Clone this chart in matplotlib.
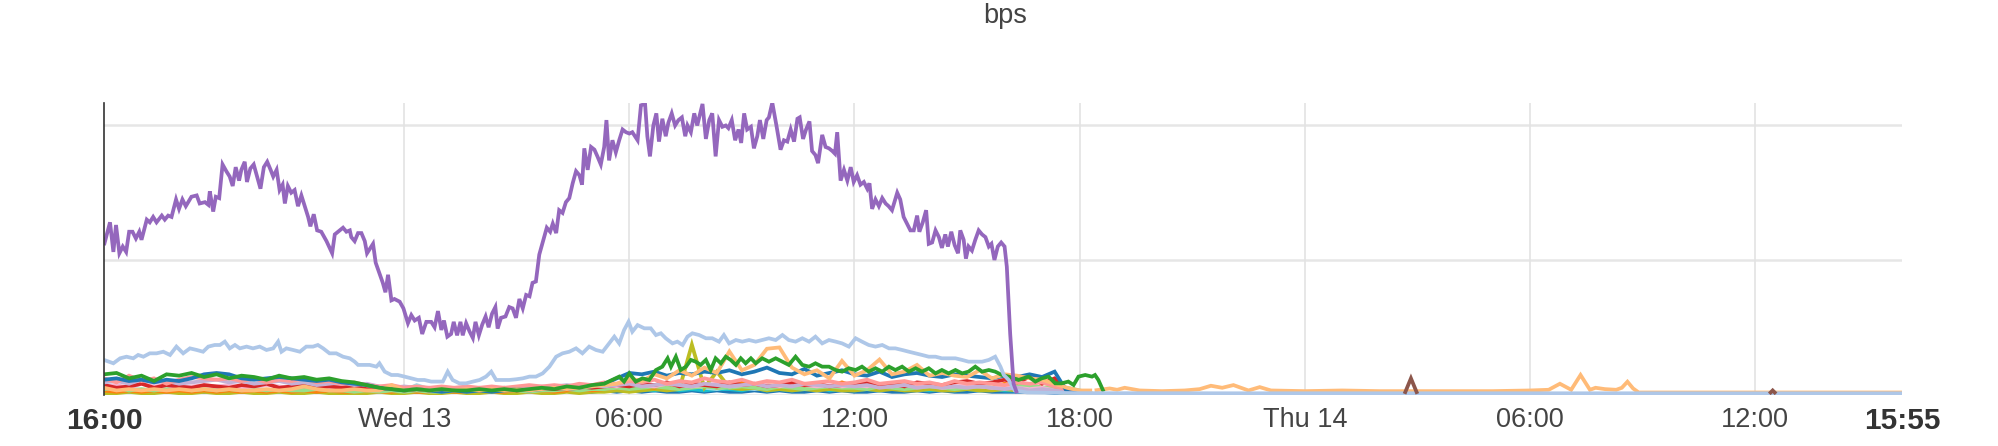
import numpy as np
import matplotlib
matplotlib.use("Agg")
import matplotlib.pyplot as plt

# ---------------- data (hours since Tue 16:00) ----------------
STEP = 1 / 3  # 20-minute sampling for the low "clutter" series

purple_t = [0.00,0.16,0.25,0.32,0.41,0.50,0.59,0.67,0.76,0.85,0.94,1.00,1.14,1.22,1.31,1.40,1.54,1.62,1.71,1.80,
            1.92,2.00,2.09,2.18,2.33,2.47,2.55,2.69,2.78,2.82,2.91,2.98,3.07,3.16,3.26,3.35,3.43,3.51,3.60,3.66,
            3.75,3.81,3.90,3.99,4.08,4.17,4.26,4.35,4.44,4.51,4.60,4.68,4.76,4.82,4.90,4.99,5.08,5.17,5.26,5.35,
            5.44,5.50,5.59,5.68,5.79,5.93,6.08,6.15,6.28,6.37,6.46,6.55,6.59,6.68,6.77,6.86,6.95,7.01,7.10,7.17,
            7.24,7.34,7.43,7.50,7.57,7.66,7.74,7.88,7.98,8.10,8.19,8.28,8.39,8.48,8.59,8.72,8.81,8.90,8.99,9.06,
            9.15,9.25,9.32,9.41,9.50,9.56,9.65,9.74,9.83,9.90,9.99,10.08,10.17,10.25,10.34,10.43,10.49,10.58,10.70,10.80,
            10.89,10.98,11.07,11.16,11.25,11.34,11.42,11.51,11.60,11.71,11.80,11.89,11.96,12.05,12.13,12.22,12.31,12.40,12.49,12.58,
            12.67,12.74,12.80,12.89,12.98,13.07,13.15,13.24,13.33,13.39,13.46,13.55,13.64,13.73,13.82,13.91,14.00,14.08,14.22,14.31,
            14.42,14.48,14.55,14.64,14.72,14.79,14.88,14.97,15.04,15.13,15.22,15.31,15.40,15.49,15.55,15.64,15.73,15.81,15.95,16.04,
            16.13,16.21,16.30,16.39,16.48,16.57,16.64,16.73,16.82,16.91,16.98,17.06,17.14,17.24,17.32,17.41,17.48,17.57,17.66,17.72,
            17.81,17.92,18.03,18.12,18.21,18.30,18.39,18.48,18.54,18.63,18.71,18.80,18.87,18.96,19.03,19.14,19.23,19.32,19.41,19.48,
            19.54,19.63,19.72,19.81,19.90,19.98,20.07,20.16,20.25,20.34,20.40,20.47,20.56,20.65,20.74,20.83,20.91,21.00,21.14,21.22,
            21.31,21.40,21.49,21.58,21.67,21.73,21.82,21.91,21.98,22.07,22.16,22.25,22.33,22.42,22.49,22.58,22.67,22.76,22.82,22.91,
            22.97,23.04,23.13,23.22,23.31,23.40,23.49,23.58,23.65,23.73,23.82,23.91,24.00,24.06,24.15,24.24,24.33]
purple_v = [111,128,106,126,105,110,106,121,121,116,121,115,130,128,132,128,133,130,133,132,
            145,138,145,140,147,148,142,143,141,151,136,147,146,171,166,162,155,169,159,167,
            173,158,168,171,162,153,169,173,167,162,167,152,156,142,155,150,152,140,148,140,
            132,125,134,122,121,114,105,119,122,124,121,122,117,114,120,120,114,105,109,112,
            98,90,83,76,89,70,71,69,64,53,59,55,57,45,54,54,50,62,48,55,
            43,45,54,44,54,44,53,47,42,54,44,52,58,50,60,65,49,57,58,65,
            64,57,71,64,74,73,83,84,104,115,124,121,127,120,137,135,143,146,157,166,
            163,156,183,167,184,182,177,171,184,204,174,189,180,189,197,195,194,195,189,215,
            216,192,177,200,209,188,205,192,202,209,200,204,206,192,200,195,209,200,216,190,
            204,209,177,204,199,200,198,204,189,197,187,209,197,199,183,192,204,190,204,206,
            217,200,182,189,188,197,188,205,206,190,197,203,181,178,172,193,184,183,181,179,
            195,159,167,159,169,158,163,156,158,153,157,138,145,140,146,142,140,137,150,145,
            132,127,122,122,133,121,128,137,112,113,122,117,109,119,110,121,111,105,122,115,
            101,110,107,115,122,119,117,110,112,100,110,113,110,95,45,8,1]

lightblue_t = [0.00,0.25,0.43,0.60,0.78,0.91,1.05,1.22,1.40,1.58,1.76,1.93,2.11,2.29,2.47,2.64,2.78,2.95,3.09,3.22,
               3.35,3.49,3.62,3.80,3.97,4.15,4.33,4.51,4.64,4.73,4.86,5.04,5.22,5.39,5.57,5.70,5.84,6.01,6.19,6.37,
               6.55,6.68,6.77,6.90,7.08,7.26,7.34,7.48,7.66,7.83,8.01,8.19,8.36,8.54,8.72,8.90,9.03,9.16,9.29,9.47,
               9.65,9.83,10.01,10.18,10.32,10.45,10.63,10.80,10.98,11.16,11.34,11.51,11.69,11.87,12.05,12.22,12.40,12.58,12.75,12.93,
               13.11,13.29,13.46,13.60,13.73,13.86,13.98,14.08,14.22,14.40,14.57,14.71,14.84,14.97,15.15,15.28,15.42,15.55,15.68,15.86,
               16.04,16.21,16.39,16.52,16.66,16.84,17.01,17.19,17.37,17.54,17.72,17.90,18.08,18.25,18.43,18.61,18.79,18.96,19.14,19.32,
               19.50,19.67,19.85,20.03,20.20,20.38,20.56,20.74,20.92,21.09,21.27,21.45,21.63,21.80,21.98,22.16,22.33,22.51,22.69,22.87,
               23.04,23.22,23.40,23.58,23.75,23.89,23.98,24.11,24.27,24.6,26.0,30.0,36.0,42.0,47.92]
lightblue_v = [25.7,23.2,26.9,28.1,26.9,29.4,28.1,30.6,30.6,31.8,29.4,35.6,30.6,34.3,33.1,31.8,35.6,36.8,36.8,39.3,
               34.3,36.8,34.3,35.6,34.3,35.6,33.1,34.3,39.3,31.8,34.3,33.1,31.8,35.6,35.6,36.8,34.3,30.6,30.6,28.1,
               26.9,24.4,22.0,22.0,22.0,20.7,23.2,17.0,14.5,14.5,13.3,12.0,10.8,10.8,9.6,9.6,9.6,17.0,10.8,8.3,
               8.3,9.6,10.8,13.3,17.0,10.8,10.8,10.8,11.3,12.0,13.3,13.3,15.7,20.7,28.1,30.6,31.8,34.3,30.6,35.6,
               33.1,31.8,38.0,43.0,38.0,47.9,54.1,46.7,51.6,49.2,49.2,44.2,45.5,41.8,38.0,39.3,36.8,43.0,45.5,44.2,
               41.8,41.8,39.3,44.2,38.0,40.5,39.3,40.5,39.3,40.5,41.8,40.5,44.2,40.5,39.3,41.8,39.3,43.0,38.0,40.5,
               39.3,38.0,35.6,41.8,39.3,36.8,35.6,36.8,34.3,34.3,33.1,31.8,30.6,29.4,28.1,28.1,26.9,26.9,26.9,25.7,
               24.4,24.4,24.4,25.7,28.1,20.7,14.5,10.8,3.0,1.5,1.0,0.9,0.9,0.9,0.9]

green_early = [15,16,12,14,10,15,14,16,13,15,
               12,14,13,11,14,12,13,11,12,10,
               9,7,5,4,3,4,3,4,3,3,
               4,3,4,3,4,5,4,6,5,7,8]
green_late_t = [13.54,13.73,13.86,14.00,14.17,14.35,14.53,14.71,14.88,15.02,15.11,15.24,15.37,15.51,15.64,15.77,15.90,16.04,16.17,16.30,
                16.44,16.57,16.70,16.84,16.97,17.10,17.24,17.37,17.54,17.72,17.90,18.08,18.25,18.43,18.61,18.79,18.96,19.14,19.32,19.50,
                19.67,19.85,20.03,20.20,20.38,20.56,20.74,20.92,21.09,21.27,21.45,21.63,21.80,21.98,22.16,22.33,22.51,22.69,22.87,23.04,
                23.22,23.40,23.58,23.75,23.93,24.11,24.37,24.64,24.82,24.99,25.17,25.35,25.52,25.70,25.84,25.97,26.15,26.33,26.41,26.50,26.64]
green_late_v = [10.8,13.3,9.6,15.7,9.6,12.0,10.8,18.2,20.7,26.9,20.7,28.1,18.2,20.7,25.7,24.4,22.0,25.7,18.2,26.9,
                23.2,28.1,25.7,22.0,26.9,23.2,26.9,23.2,26.9,24.4,26.9,24.4,22.0,28.1,22.0,20.7,23.2,20.7,20.7,18.2,
                17.0,19.5,18.2,20.7,17.0,19.5,17.0,20.7,18.2,20.7,17.0,19.5,17.0,19.5,15.7,18.2,15.7,18.2,15.7,17.0,
                20.7,17.0,18.2,17.0,14.5,13.3,10.8,13.3,9.6,12.0,13.3,8.3,8.3,9.6,7.1,13.3,14.5,13.3,14.5,10.8,2.1]

blue = [11,12,10,11,9,11,10,12,15,16,
        15,12,11,12,13,12,11,10,11,9,
        8,7,5,4,3,4,3,2,3,2,
        3,2,3,4,3,4,5,4,5,6,
        8,12,16,15,17,14,16,15,17,16,
        18,15,17,20,16,15,19,14,16,18,
        15,14,17,13,15,16,14,13,15,14,
        13,12,14,13,15,13,17,2,1]
blue_base = [3,2,3,2,3,2,2,3,2,3, 2,3,2,2,3,2,3,2,2,3, 2,2,2,3,2,2,3,2,2,3, 2,2,3,2,2,3,2,3,2,2,
             3,2,3,2,3,2,2,3,2,3, 2,2,3,2,3,2,2,3,2,3, 2,2,3,2,2,3,2,3,2,2, 3,2,2,2,2,2,1,1,1]
salmon = [12,9,14,10,12,8,11,13,12,11, 12,10,12,9,11,10,12,9,10,8, 9,7,6,7,5,6,5,6,5,6, 5,6,5,6,7,6,7,6,8,7,
          9,8,10,9,11,8,10,9,12,10, 9,11,8,10,9,11,8,9,10,8, 9,11,8,9,10,8,9,7,10,8, 9,8,7,9,8,9,6,4,2]
red = [7,5,6,8,5,7,6,5,7,6, 5,7,6,8,5,6,7,5,6,5, 6,4,4,5,3,4,3,4,3,4, 3,4,5,3,4,5,4,5,6,5,
       6,7,6,8,7,9,6,8,7,6, 9,7,8,6,7,9,7,8,6,7, 8,9,7,8,6,9,8,7,9,10, 8,9,11,9,13,8,12,3,1]
lavender = [9,10,8,11,9,10,8,9,10,11, 9,10,8,9,10,8,9,7,8,9, 7,8,6,5,6,5,4,5,4,5, 4,5,4,5,6,5,6,7,6,7,
            6,7,8,6,7,8,7,6,8,7, 6,7,8,6,7,6,8,7,6,7, 6,7,5,6,7,5,6,5,6,5, 6,5,4,5,3,4,3,2,1]
lightcyan = [4,3,5,3,4,3,4,5,3,4, 3,4,5,3,4,3,4,3,5,4, 3,4,4,5,3,7,4,3,4,3, 5,4,3,4,6,4,5,4,6,5,
             4,5,4,6,5,4,5,7,5,4, 6,5,4,5,6,4,5,6,4,5, 4,6,5,4,5,6,4,5,4,6, 5,4,5,4,3,3,2,1,1]
pink = [6,7,5,8,6,7,5,6,7,6, 7,5,6,7,6,5,7,6,5,6, 5,4,5,4,5,4,5,4,5,4, 5,4,5,4,5,6,5,6,5,6,
        7,6,8,7,6,8,7,6,7,8, 6,7,8,7,6,8,7,6,7,6, 7,6,8,6,7,6,7,5,6,7, 6,5,6,5,4,5,3,2,1]
orange = [3,2,3,2,3,2,3,2,3,2, 3,2,3,2,3,2,3,2,3,2, 2,3,2,2,3,2,2,3,2,2, 3,2,2,3,2,3,2,3,4,3,
          4,5,4,6,5,7,5,6,8,5, 6,9,5,7,6,8,5,7,6,9, 6,5,7,6,8,5,7,6,5,7, 6,5,8,6,7,5,4,2,1]
cyan = [2,3,2,3,2,3,2,2,3,2, 3,2,2,3,2,3,2,2,3,2, 2,3,2,2,3,2,2,3,2,3, 2,3,2,3,2,3,2,3,2,3,
        3,4,3,4,3,5,3,4,3,4, 4,3,5,3,4,3,4,6,3,4, 3,4,3,5,3,4,3,4,3,4, 3,4,3,3,4,3,2,1,1]
lightgreen = [4,5,3,4,3,4,5,3,4,3, 4,3,4,3,4,3,3,4,3,3, 2,3,2,3,2,3,2,2,3,2, 3,2,3,3,2,3,3,4,3,4,
              4,5,4,5,6,5,4,5,6,5, 5,6,5,4,6,5,4,5,6,5, 5,4,6,5,4,5,6,5,4,5, 6,5,5,6,7,5,6,5,3,1]
olive = [1,1,2,1,1,2,1,1,2,1, 1,2,1,1,2,1,1,2,1,1, 1,1,2,1,1,2,1,1,2,1, 1,2,1,1,2,1,1,2,1,2,
         2,3,2,3,4,3,4,37,5,17, 5,4,5,3,4,3,4,3,4,3, 3,4,3,4,3,3,4,3,3,4, 3,3,4,3,3,2,2,1,0]
orangelight = [5,3,4,3,4,3,4,3,4,3, 4,3,3,4,3,4,6,4,3,3, 4,3,3,7,3,4,3,4,3,4, 3,4,3,4,3,4,5,4,5,6,
               7,8,12,10,15,12,18,14,20,16, 32,18,22,34,35,20,15,18,12,25, 14,18,26,15,17,22,14,16,14,13,
               18,12,15,14,12,11,8,5,3,3]
orangelight_tail_t = [26.4,26.8,27.0,27.2,27.6,28.2,28.8,29.2,29.5,29.8,30.1,30.5,30.8,31.1,32,33,34,35,36,37,
                      38,38.5,38.8,39.1,39.35,39.6,39.75,40.0,40.3,40.45,40.6,40.75,40.9,42,44,46,47.92]
orangelight_tail_v = [3,4.5,3.5,5,3,2.5,3,4,6.5,5,7,3,5.5,3,2.5,3,2.5,2.5,2.5,2.5,
                      3,3.5,8,3.5,14.5,3.5,5,4,3.5,5,9.5,4.5,1.5,1.5,1.5,1.5,1.5]
brown_t = [34.66, 34.83, 35.0, np.nan, 44.38, 44.47, 44.56]
brown_v = [0.5, 12, 0.5, np.nan, 0.5, 3, 0.5]

tick_pos = [0, 8, 14, 20, 26, 32, 38, 44, 47 + 55 / 60]
tick_labels = ["16:00", "Wed 13", "06:00", "12:00", "18:00", "Thu 14", "06:00", "12:00", "15:55"]
title = "bps"

# ---------------- figure ----------------
FONT = "Liberation Sans"
fig = plt.figure(figsize=(19.99, 4.46), dpi=100)
ax = fig.add_axes([104 / 1999, 1 - 394.5 / 446, (1902 - 104) / 1999, (394.5 - 103) / 446])

def grid_t(vals):
    return np.arange(len(vals)) * STEP

LW = 2.7
series = [
    (grid_t(blue_base), blue_base, "#1f77b4"),
    (grid_t(cyan), cyan, "#17becf"),
    (grid_t(lightcyan), lightcyan, "#9edae5"),
    (grid_t(olive), olive, "#bcbd22"),
    (grid_t(orange), orange, "#ff7f0e"),
    (grid_t(lightgreen), lightgreen, "#98df8a"),
    (grid_t(pink), pink, "#f7b6d2"),
    (grid_t(red), red, "#d62728"),
    (grid_t(lavender), lavender, "#c5b0d5"),
    (grid_t(salmon), salmon, "#ff9896"),
    (grid_t(blue), blue, "#1f77b4"),
    (grid_t(orangelight), orangelight, "#ffbb78"),
    (orangelight_tail_t, orangelight_tail_v, "#ffbb78"),
    (np.concatenate([grid_t(green_early), green_late_t]), np.concatenate([green_early, green_late_v]), "#2ca02c"),
    (lightblue_t, lightblue_v, "#aec7e8"),
    (brown_t, brown_v, "#8c564b"),
    (purple_t, purple_v, "#9467bd"),
]
for t, v, c in series:
    ax.plot(t, v, color=c, lw=LW, solid_joinstyle="miter", solid_capstyle="butt", zorder=3)

ax.set_xlim(0, tick_pos[-1])
ax.set_ylim(0, 216.7)

# grid
for y in (0, 100, 200):
    ax.axhline(y, color="#e6e6e6", lw=1.8, zorder=1)
for x in tick_pos[1:-1]:
    ax.axvline(x, color="#e3e3e3", lw=1.2, zorder=1)

for s in ("top", "right", "bottom"):
    ax.spines[s].set_visible(False)
ax.spines["left"].set_color("#333333")
ax.spines["left"].set_linewidth(1.2)
ax.spines["left"].set_zorder(4)

ax.set_yticks([])
ax.set_xticks(tick_pos)
ax.set_xticklabels(tick_labels)
ax.tick_params(axis="x", length=0, pad=9)
for i, lab in enumerate(ax.get_xticklabels()):
    lab.set_fontfamily(FONT)
    if i in (0, len(tick_labels) - 1):
        lab.set_fontsize(21.5)
        lab.set_fontweight("bold")
        lab.set_color("#333333")
    else:
        lab.set_fontsize(19.5)
        lab.set_color("#444444")

fig.text(1005 / 1999, 1 - 3 / 446, title, ha="center", va="top",
         fontsize=19.5, color="#444444", family=FONT)

fig.savefig("out.png", dpi=100)
